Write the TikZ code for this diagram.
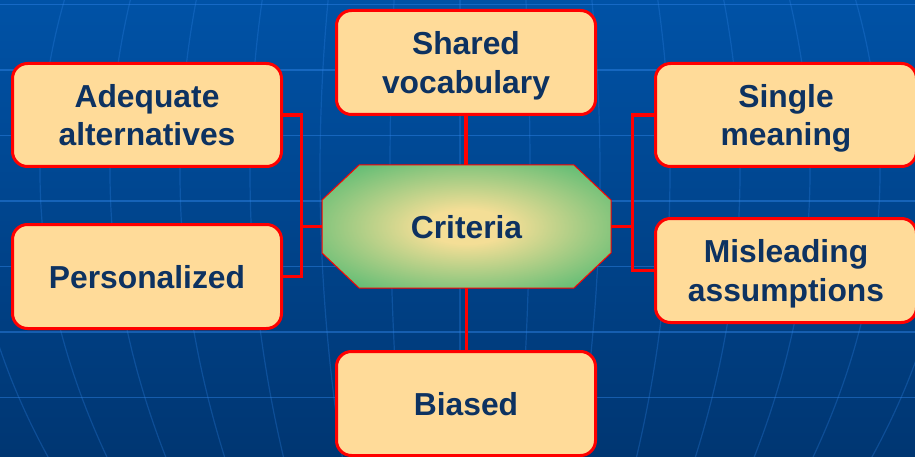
\documentclass[tikz,border=0pt]{standalone}
\usepackage{fontspec}
\setmainfont{Liberation Sans}
\usetikzlibrary{calc}

\definecolor{bgtop}{RGB}{0,96,192}
\definecolor{bgbot}{RGB}{0,40,88}
\definecolor{gridcol}{RGB}{50,135,235}
\definecolor{boxfill}{RGB}{255,219,153}
\definecolor{boxline}{RGB}{255,0,0}
\definecolor{labelcol}{RGB}{13,50,97}
\definecolor{critin}{RGB}{244,222,150}
\definecolor{critout}{RGB}{94,188,116}

% backdrop: linear fade from bright blue at the top to navy at the bottom
\pgfdeclareverticalshading{bgshade}{100bp}{color(0bp)=(bgbot); color(100bp)=(bgtop)}
% centre shape: pale yellow core fading to green
\pgfdeclareradialshading{critshade}{\pgfpoint{0bp}{0bp}}{color(0bp)=(critin); color(7bp)=(critin); color(32bp)=(critout); color(50bp)=(critout)}

\begin{document}
\begin{tikzpicture}[x=1pt, y=-1pt,
  latline/.style={draw=gridcol, draw opacity=0.45, line width=1.2pt},
  longline/.style={draw=gridcol, draw opacity=0.28, line width=1.2pt},
  card/.style={draw=boxline, line width=3pt, fill=boxfill, rounded corners=15pt,
    text=labelcol, font=\fontsize{31.8}{38.5}\selectfont\bfseries, align=center,
    text depth=0pt, inner sep=0pt},
  link/.style={draw=boxline, line width=3.2pt},
  hub/.style={text=labelcol, font=\fontsize{31.8}{38.5}\selectfont\bfseries,
    minimum width=289pt, minimum height=123pt, inner sep=0pt, text depth=0pt}]

\useasboundingbox (0,0) rectangle (915,457);
\path[shading=bgshade] (0,0) rectangle (915,457);

% globe-like grid behind the diagram
\begin{scope}
  \clip (0,0) rectangle (915,457);
  \foreach \i in {0,...,6}
    \draw[latline] (0,{4.5+65.5*\i}) -- (915,{4.5+65.5*\i});
  \foreach \k in {-7,...,7}
    \draw[longline] plot[domain=0:457, samples=40, variable=\t, smooth]
      ({460+\k*(70-0.000135*(\t-172)*(\t-172))}, {\t});
\end{scope}

% central octagon
\coordinate (cc) at (466.5,226.5);
\path[shading=critshade, draw=boxline, line width=1pt]
  ($(cc)+(-107.5,-61.5)$) -- ($(cc)+(107.5,-61.5)$) -- ($(cc)+(144.5,-26.5)$)
  -- ($(cc)+(144.5,26.5)$) -- ($(cc)+(107.5,61.5)$) -- ($(cc)+(-107.5,61.5)$)
  -- ($(cc)+(-144.5,26.5)$) -- ($(cc)+(-144.5,-26.5)$) -- cycle;
\node[hub] (crit) at (cc) {Criteria};

% surrounding cards
\node[card, minimum width=259pt, minimum height=104pt] (shared) at (466,62.5) {Shared\\vocabulary};
\node[card, minimum width=259pt, minimum height=104pt] (biased) at (466,403.5) {Biased};
\node[card, minimum width=269pt, minimum height=103pt] (adequate) at (147,115) {Adequate\\alternatives};
\node[card, minimum width=269pt, minimum height=104pt] (personal) at (147,276.5) {Personalized};
\node[card, minimum width=261pt, minimum height=103pt] (single) at (786,115) {Single\\meaning};
\node[card, minimum width=261pt, minimum height=104pt] (mislead) at (786,270.5) {Misleading\\assumptions};

% connectors
\coordinate (lbus) at ($(crit.west)+(-20,0)$);
\coordinate (rbus) at ($(crit.east)+(21,0)$);
\draw[link] (shared.south) -- (shared.south |- crit.north);
\draw[link] (crit.south) -- (crit.south |- biased.north);
\draw[link] (adequate.east) -| (lbus) |- (personal.east);
\draw[link] (crit.west) -- (lbus);
\draw[link] (single.west) -| (rbus) |- (mislead.west);
\draw[link] (crit.east) -- (rbus);
\end{tikzpicture}
\end{document}
